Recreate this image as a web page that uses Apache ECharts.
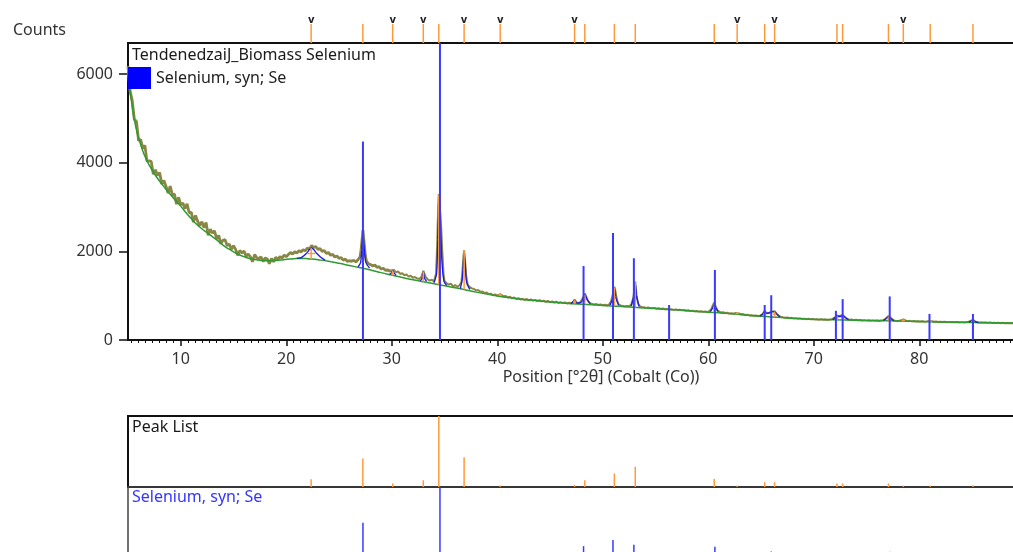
<!DOCTYPE html>
<html>
<head>
<meta charset="utf-8">
<script src="https://cdn.jsdelivr.net/npm/echarts/dist/echarts.min.js"></script>
<style>
  html, body { margin: 0; padding: 0; background: #fff; }
  #chart-container { width: 1013px; height: 552px; }
</style>
</head>
<body>
<div id="chart-container"></div>
<script>
// measured scan [2theta, counts]
var measured = [
[5.0,6180],[5.2,5610],[5.4,5400],[5.6,4980],[5.8,4930],[6.0,4500],[6.2,4520],[6.4,4320],[6.6,4390],[6.8,4030],
[7.0,4040],[7.2,4030],[7.4,3740],[7.6,3840],[7.8,3710],[8.0,3780],[8.2,3520],[8.4,3600],[8.6,3470],[8.8,3315],
[9.0,3470],[9.2,3275],[9.4,3290],[9.6,3065],[9.8,3220],[10.0,3050],[10.2,3090],[10.4,2960],[10.6,3070],[10.8,2870],
[11.0,2880],[11.2,2660],[11.4,2810],[11.6,2680],[11.8,2580],[12.0,2670],[12.2,2535],[12.4,2650],[12.6,2365],[12.8,2500],
[13.0,2410],[13.2,2465],[13.4,2280],[13.6,2360],[13.8,2170],[14.0,2250],[14.2,2265],[14.4,2125],[14.6,2165],[14.8,2045],
[15.0,2130],[15.2,2045],[15.4,1910],[15.6,2020],[15.8,1960],[16.0,2010],[16.2,1885],[16.4,1940],[16.6,1875],[16.8,1765],
[17.0,1925],[17.2,1858],[17.4,1832],[17.6,1877],[17.8,1773],[18.0,1850],[18.2,1829],[18.4,1719],[18.6,1840],[18.8,1762],
[19.0,1865],[19.2,1819],[19.4,1883],[19.6,1848],[19.8,1914],[20.0,1880],
[20.2,1930],[20.4,1975],[20.6,1940],[20.8,1990],[21.0,1960],[21.2,2015],[21.4,1985],[21.6,2040],[21.8,2010],[22.0,2075],
[22.2,2050],[22.4,2130],[22.6,2085],[22.8,2110],[23.0,2040],[23.2,2065],[23.4,2000],[23.6,2020],[23.8,1950],[24.0,1975],
[24.2,1910],[24.4,1935],[24.6,1870],[24.8,1895],[25.0,1840],[25.2,1860],[25.4,1800],[25.6,1825],[25.8,1770],[26.0,1790],
[26.2,1775],[26.4,1800],[26.6,1760],[26.8,1810],[27.0,1880],[27.1,2050],[27.2,2300],[27.27,2480],[27.4,2150],[27.5,1900],
[27.6,1780],[27.8,1720],[28.0,1700],[28.2,1670],[28.4,1690],[28.6,1640],[28.8,1655],[29.0,1600],[29.2,1620],[29.4,1570],
[29.6,1585],[29.8,1555],[30.0,1570],[30.1,1600],[30.2,1580],[30.4,1530],[30.6,1545],[30.8,1490],[31.0,1505],[31.2,1460],
[31.4,1480],[31.6,1430],[31.8,1450],[32.0,1405],[32.2,1420],[32.4,1390],[32.6,1375],[32.8,1420],[33.0,1560],[33.2,1430],
[33.4,1370],[33.6,1340],[33.8,1360],[34.0,1320],[34.2,1500],[34.3,2100],[34.4,3000],[34.46,3290],[34.55,3000],[34.65,2700],
[34.8,1950],[34.9,1500],[35.0,1330],[35.2,1280],[35.4,1250],[35.6,1270],[35.8,1210],[36.0,1240],[36.2,1200],[36.4,1230],
[36.6,1300],[36.7,1550],[36.8,1900],[36.86,2020],[36.95,1800],[37.05,1450],[37.2,1250],[37.4,1190],[37.6,1165],[37.8,1150],
[38.0,1120],[38.2,1125],[38.4,1090],[38.6,1095],[38.8,1060],[39.0,1070],[39.2,1035],[39.4,1045],[39.6,1010],[39.8,1030],
[40.0,1000],[40.28,1035],[40.4,1020],[40.6,985],[40.8,990],[41.0,960],
[41.2,975],[41.4,945],[41.6,960],[41.8,925],[42.0,945],[42.2,915],[42.4,930],[42.6,905],[42.8,925],[43.0,895],
[43.2,915],[43.4,890],[43.6,905],[43.8,880],[44.0,900],[44.2,870],[44.4,890],[44.6,860],[44.8,880],[45.0,855],
[45.2,870],[45.4,845],[45.6,865],[45.8,835],[46.0,855],[46.2,830],[46.4,850],[46.6,825],[46.8,840],[47.0,830],
[47.2,840],[47.33,915],[47.5,850],[47.7,830],[47.9,860],[48.1,940],[48.3,1050],[48.45,970],[48.6,880],[48.8,830],
[49.0,815],[49.2,800],[49.4,810],[49.6,790],[49.8,800],[50.0,785],[50.2,795],[50.4,780],[50.6,800],[50.8,880],
[51.0,1080],[51.1,1200],[51.2,1100],[51.35,900],[51.5,800],[51.7,780],[51.9,770],[52.1,760],[52.3,770],[52.5,760],
[52.7,800],[52.9,950],[53.0,1150],[53.08,1320],[53.2,1000],[53.35,820],[53.5,760],[53.7,745],[53.9,740],[54.1,725],
[54.3,735],[54.5,720],[54.7,715],[54.9,725],[55.1,705],[55.3,715],[55.5,700],[55.7,710],[55.9,690],[56.1,700],
[56.3,685],[56.5,695],[56.7,680],[56.9,690],[57.1,675],[57.3,685],[57.5,668],[57.7,678],[57.9,660],[58.1,670],
[58.3,652],[58.5,662],[58.7,645],[58.9,655],[59.1,640],[59.3,650],[59.5,635],[59.7,645],[59.9,630],[60.1,650],
[60.3,700],[60.45,790],[60.57,845],[60.7,760],[60.85,670],[61.0,630],[61.2,618],[61.4,625],[61.6,608],[61.8,615],
[62.0,598],[62.2,605],[62.4,595],[62.6,610],[62.74,625],[62.9,600],[63.1,580],[63.3,585],[63.5,565],[63.7,572],
[63.9,555],[64.1,560],[64.3,548],[64.5,553],[64.7,540],[64.9,548],[65.1,575],[65.35,650],[65.6,600],[65.8,615],
[66.0,640],[66.29,650],[66.5,590],[66.7,540],[66.9,520],[67.1,510],[67.3,500],[67.5,508],[67.7,492],[67.9,500],
[68.1,485],[68.3,493],[68.5,480],[68.7,488],[68.9,474],[69.1,482],[69.3,470],[69.5,478],[69.7,465],[69.9,473],
[70.1,462],[70.3,470],[70.5,458],[70.7,466],[70.9,455],[71.1,463],[71.3,452],[71.5,460],[71.7,470],[71.9,490],
[72.2,545],[72.45,540],[72.74,565],[72.95,520],[73.2,475],[73.4,455],[73.6,462],[73.8,448],[74.0,456],[74.2,444],
[74.4,452],[74.6,440],[74.8,448],[75.0,437],[75.2,446],[75.4,434],[75.6,443],[75.8,432],[76.0,440],[76.2,430],
[76.4,438],[76.6,445],[76.8,480],[77.08,540],[77.3,500],[77.5,455],[77.7,435],[77.9,428],[78.1,435],[78.3,445],
[78.49,465],[78.7,440],[78.9,425],[79.1,432],[79.3,420],[79.5,428],[79.7,418],[79.9,425],[80.1,415],[80.3,423],
[80.5,413],[80.7,420],[80.9,430],[81.04,438],[81.2,422],[81.4,410],[81.6,417],[81.8,407],[82.0,414],[82.2,404],
[82.4,411],[82.6,402],[82.8,409],[83.0,400],[83.2,407],[83.4,398],[83.6,405],[83.8,396],[84.0,403],[84.2,394],
[84.4,401],[84.6,405],[84.8,425],[85.09,452],[85.3,420],[85.5,398],[85.7,390],[85.9,397],[86.1,388],[86.3,395],
[86.5,386],[86.7,393],[86.9,384],[87.1,391],[87.3,382],[87.5,389],[87.7,380],[87.9,387],[88.1,378],[88.3,385],
[88.5,376],[88.7,383],[88.9,375],[89.2,381],[89.6,376],[90.0,378]
];

// fitted background
var background = [
[5.0,6050],[5.25,5550],[5.5,5100],[5.75,4800],[6.0,4560],[6.5,4200],[7.0,3950],[7.5,3750],[8.0,3580],[8.5,3430],
[9.0,3290],[9.5,3150],[10,3020],[10.5,2870],[11,2740],[11.5,2610],[12,2510],[12.5,2420],[13,2330],[13.5,2240],
[14,2140],[14.5,2060],[15,1990],[15.5,1930],[16,1880],[16.5,1840],[17,1815],[17.5,1800],[18,1790],[18.5,1789],
[19,1795],[19.5,1805],[20,1820],[20.5,1830],[21,1840],[21.5,1840],[22,1835],[22.5,1825],[23,1810],[24,1775],
[25,1730],[26,1680],[27,1630],[28,1580],[29,1520],[30,1465],[31,1410],[32,1360],[33,1315],[34,1270],
[35,1225],[36,1180],[37,1130],[38,1080],[39,1035],[40,995],[41,960],[42,925],[43,900],[44,880],
[45,858],[46,838],[47,820],[48,805],[49,795],[50,780],[51,768],[52,752],[53,738],[54,722],
[55,708],[56,694],[57,680],[58,662],[59,645],[60,628],[61,612],[62,595],[63,575],[64,552],
[65,535],[66,520],[67,505],[68,490],[69,478],[70,468],[72,455],[74,447],[76,438],[78,428],
[80,418],[82,408],[84,400],[86,392],[88,385],[90,378]
];

// fitted profile pieces around the peaks
var fitSegments = [
[[21.0,1842],[21.5,1870],[21.9,1950],[22.2,2040],[22.4,2075],[22.6,2040],[22.9,1950],[23.3,1860],[23.7,1800]],
[[26.8,1650],[27.05,1750],[27.18,2150],[27.27,2430],[27.38,2100],[27.55,1750],[27.9,1620]],
[[29.8,1480],[30.0,1520],[30.09,1570],[30.2,1520],[30.4,1460]],
[[32.7,1335],[32.9,1400],[32.99,1540],[33.1,1400],[33.3,1320]],
[[34.0,1290],[34.25,1500],[34.4,2600],[34.5,2950],[34.6,2700],[34.75,1800],[34.95,1320],[35.2,1230]],
[[36.5,1160],[36.7,1400],[36.86,1950],[36.97,1700],[37.1,1300],[37.4,1140]],
[[47.0,822],[47.33,890],[47.6,830],[48.0,860],[48.2,980],[48.32,1020],[48.5,920],[48.8,820]],
[[50.7,790],[50.95,950],[51.1,1180],[51.25,950],[51.5,790]],
[[52.7,765],[52.95,1000],[53.08,1280],[53.2,1000],[53.45,760]],
[[60.2,640],[60.45,740],[60.57,820],[60.7,740],[60.95,640]],
[[64.9,540],[65.2,590],[65.35,640],[65.55,600],[65.8,610],[66.1,640],[66.29,640],[66.5,580],[66.8,525]],
[[71.8,458],[72.1,520],[72.25,540],[72.45,530],[72.74,550],[73.0,500],[73.3,455]],
[[76.6,440],[76.9,490],[77.08,520],[77.3,480],[77.6,435]],
[[84.7,400],[85.0,440],[85.09,448],[85.3,415],[85.6,395]]
];

// peak list
var peakPos  = [22.36, 27.26, 30.09, 32.99, 34.46, 36.86, 40.28, 47.33, 48.30, 51.10, 53.08, 60.57, 62.74, 65.35, 66.29, 72.20, 72.74, 77.08, 78.49, 81.04, 85.09];
var peakRel  = [11, 40, 5, 9.5, 100, 42, 2, 3, 9.5, 19, 28.5, 11.5, 2, 6.7, 6.7, 5, 5, 5, 2, 2, 2.3];
var peakTop  = [2075, 2430, 1570, 1545, 3274, 2017, 1035, 900, 1020, 1190, 1300, 830, 615, 640, 645, 540, 555, 530, 460, 435, 450];
var peakBg   = [1828, 1620, 1460, 1315, 1245, 1140, 995, 818, 805, 768, 738, 625, 585, 535, 520, 456, 454, 432, 426, 415, 395];
var peakFwhm = [0.8, 0.2, 0.2, 0.15, 0.2, 0.15, 0.3, 0.3, 0.25, 0.2, 0.2, 0.25, 0.3, 0.3, 0.3, 0.3, 0.3, 0.3, 0.3, 0.3, 0.3];
var flaggedPeaks = [22.36, 30.09, 32.99, 36.86, 40.28, 47.33, 62.74, 66.29, 78.49];

// reference pattern: Selenium, syn; Se (relative intensity %)
var seRefPos = [27.27, 34.57, 48.18, 50.97, 52.95, 56.29, 60.63, 65.35, 65.97, 72.10, 72.74, 77.20, 80.97, 85.09];
var seRefRel = [51, 100, 19, 27.5, 21, 9, 18, 9, 11.5, 7.5, 10.5, 11.2, 6.7, 6.7];
var SE_FULL_SCALE = 8780; // counts for 100 % in the main plot

var yTickValues = [0, 2000, 4000, 6000];
var xTickValues = [10, 20, 30, 40, 50, 60, 70, 80, 90];

var dom = document.getElementById("chart-container");
var myChart = echarts.init(dom);

var FONT = '"Noto Sans", sans-serif';
var ORANGE = "#ff9a3c";
var BLUE = "#3a3aff";
var OLIVE = "#8a8646";

function stick(color, width) {
  return function (params, api) {
    var x = api.value(0);
    var h = api.value(1);
    var p0 = api.coord([x, 0]);
    var p1 = api.coord([x, h]);
    var top = params.coordSys.y;
    return {
      type: "line",
      shape: { x1: p0[0], y1: p0[1], x2: p1[0], y2: Math.max(p1[1], top) },
      style: { stroke: color, lineWidth: width }
    };
  };
}

function peakMark(params, api) {
  var x = api.value(0), bg = api.value(1), top = api.value(2), w = api.value(3);
  var a = api.coord([x, bg]);
  var b = api.coord([x, top]);
  var mid = (bg + top) / 2;
  var l = api.coord([x - w / 2, mid]);
  var r = api.coord([x + w / 2, mid]);
  return {
    type: "group",
    children: [
      { type: "line", shape: { x1: a[0], y1: a[1], x2: b[0], y2: b[1] }, style: { stroke: ORANGE, lineWidth: 1.5 } },
      { type: "line", shape: { x1: l[0], y1: l[1], x2: r[0], y2: r[1] }, style: { stroke: ORANGE, lineWidth: 1.5 } }
    ]
  };
}

function stripMark(params, api) {
  var x = api.value(0);
  var flag = api.value(1);
  var p0 = api.coord([x, 0]);
  var p1 = api.coord([x, 1]);
  var children = [
    { type: "line", shape: { x1: p0[0], y1: p0[1], x2: p1[0], y2: p1[1] }, style: { stroke: ORANGE, lineWidth: 1.5 } }
  ];
  if (flag) {
    children.push({
      type: "text",
      x: p1[0], y: p1[1] + 1,
      style: { text: "v", fill: "#222", font: "bold 10px 'DejaVu Sans'", align: "center", verticalAlign: "bottom" }
    });
  }
  return { type: "group", children: children };
}

var plotLeft = 128;
var plotWidth = 85 * 10.55;

function hiddenX(idx) {
  return { type: "value", gridIndex: idx, min: 5, max: 90, show: false };
}
function hiddenY(idx, max) {
  return { type: "value", gridIndex: idx, min: 0, max: max, show: false };
}
function gridAt(top, height, extra) {
  var g = { left: plotLeft, top: top, width: plotWidth, height: height, outerBoundsMode: "none", containLabel: false };
  for (var k in extra) g[k] = extra[k];
  return g;
}

// the scan looks like a thick noisy band at low angle, thinner further out
var measuredLow = measured.filter(function (d) { return d[0] <= 30; });
var measuredHigh = measured.filter(function (d) { return d[0] >= 30; });

var series = [
  {
    type: "line", name: "measured", xAxisIndex: 1, yAxisIndex: 1,
    data: measuredLow, showSymbol: false, symbol: "none",
    lineStyle: { color: OLIVE, width: 2.8 }, z: 2
  },
  {
    type: "line", xAxisIndex: 1, yAxisIndex: 1,
    data: measuredHigh, showSymbol: false, symbol: "none",
    lineStyle: { color: OLIVE, width: 2 }, z: 2
  },
  {
    type: "line", name: "background", xAxisIndex: 1, yAxisIndex: 1,
    data: background, showSymbol: false, symbol: "none", smooth: 0.4,
    lineStyle: { color: "#2f9a2f", width: 1.5 }, z: 3
  }
];
fitSegments.forEach(function (seg) {
  series.push({
    type: "line", xAxisIndex: 1, yAxisIndex: 1, data: seg,
    showSymbol: false, symbol: "none", smooth: 0.3,
    lineStyle: { color: "#1a1ae0", width: 1.3 }, z: 4
  });
});
series.push(
  {
    type: "custom", name: "peaks", xAxisIndex: 1, yAxisIndex: 1, renderItem: peakMark,
    data: peakPos.map(function (p, i) { return [p, peakBg[i], peakTop[i], peakFwhm[i]]; }),
    encode: { x: 0, y: [1, 2] }, z: 5
  },
  {
    type: "custom", name: "Selenium, syn; Se", xAxisIndex: 1, yAxisIndex: 1, renderItem: stick(BLUE, 2),
    itemStyle: { color: "#0000ff" },
    data: seRefPos.map(function (p, i) { return [p, seRefRel[i] * SE_FULL_SCALE / 100]; }),
    encode: { x: 0, y: 1 }, z: 6
  },
  {
    type: "custom", xAxisIndex: 0, yAxisIndex: 0, renderItem: stripMark,
    data: peakPos.map(function (p) { return [p, flaggedPeaks.indexOf(p) >= 0 ? 1 : 0]; }),
    encode: { x: 0, y: 1 }
  },
  {
    type: "custom", xAxisIndex: 2, yAxisIndex: 2, renderItem: stick(ORANGE, 1.5),
    data: peakPos.map(function (p, i) { return [p, peakRel[i]]; }),
    encode: { x: 0, y: 1 }
  },
  {
    type: "custom", xAxisIndex: 3, yAxisIndex: 3, renderItem: stick(BLUE, 1.5),
    data: seRefPos.map(function (p, i) { return [p, seRefRel[i]]; }),
    encode: { x: 0, y: 1 }
  }
);

var option = {
  animation: false,
  backgroundColor: "#fff",
  textStyle: { fontFamily: FONT },
  legend: {
    left: 128, top: 67, padding: 0,
    itemWidth: 23, itemHeight: 22, itemGap: 5,
    selectedMode: false,
    textStyle: { fontSize: 16, color: "#222", fontFamily: FONT },
    data: [{ name: "Selenium, syn; Se", icon: "rect", itemStyle: { color: "#0000ff" } }]
  },
  grid: [
    gridAt(24, 19, { show: false }),
    gridAt(43, 297, { show: true, borderColor: "#111", borderWidth: 2 }),
    gridAt(416, 71, { show: true, borderColor: "#111", borderWidth: 2 }),
    gridAt(487, 73, { show: true, borderColor: "#444", borderWidth: 1.5 })
  ],
  xAxis: [
    hiddenX(0),
    {
      type: "value", gridIndex: 1, min: 5, max: 90, splitNumber: 8,
      axisLine: { lineStyle: { color: "#111", width: 2 } },
      axisTick: { show: true, length: 6, customValues: xTickValues, lineStyle: { color: "#111", width: 1.5 } },
      minorTick: { show: true, splitNumber: 15, length: 3, lineStyle: { color: "#111", width: 1 } },
      axisLabel: {
        customValues: xTickValues, fontSize: 16, color: "#333", margin: 11, fontFamily: FONT,
        formatter: function (v) { return String(v); }
      },
      splitLine: { show: false }
    },
    hiddenX(2),
    hiddenX(3)
  ],
  yAxis: [
    hiddenY(0, 1),
    {
      type: "value", gridIndex: 1, min: 0, max: 6700, interval: 2000,
      axisLine: { show: true, lineStyle: { color: "#111", width: 2 } },
      axisTick: { show: true, length: 9, customValues: yTickValues, lineStyle: { color: "#111", width: 1.5 } },
      axisLabel: {
        customValues: yTickValues, fontSize: 16, color: "#333", margin: 15, fontFamily: FONT,
        formatter: function (v) { return String(v); }
      },
      splitLine: { show: false }
    },
    hiddenY(2, 100),
    hiddenY(3, 100)
  ],
  graphic: [
    { type: "text", x: 13, y: 30, z: 100, style: { text: "Counts", fill: "#333", font: "16px " + FONT, verticalAlign: "middle" } },
    { type: "text", x: 132, y: 55, z: 100, style: { text: "TendenedzaiJ_Biomass Selenium", fill: "#1a1a1a", font: "16px " + FONT, verticalAlign: "middle" } },
    { type: "text", x: 601, y: 377, z: 100, style: { text: "Position [°2θ] (Cobalt (Co))", fill: "#333", font: "16px " + FONT, align: "center", verticalAlign: "middle" } },
    { type: "text", x: 132, y: 427, z: 100, style: { text: "Peak List", fill: "#1a1a1a", font: "16px " + FONT, verticalAlign: "middle" } },
    { type: "text", x: 132, y: 497, z: 100, style: { text: "Selenium, syn; Se", fill: "#3535ff", font: "16px " + FONT, verticalAlign: "middle" } }
  ],
  series: series
};

if (option && typeof option === "object") {
  myChart.setOption(option, true);
}
</script>
</body>
</html>
